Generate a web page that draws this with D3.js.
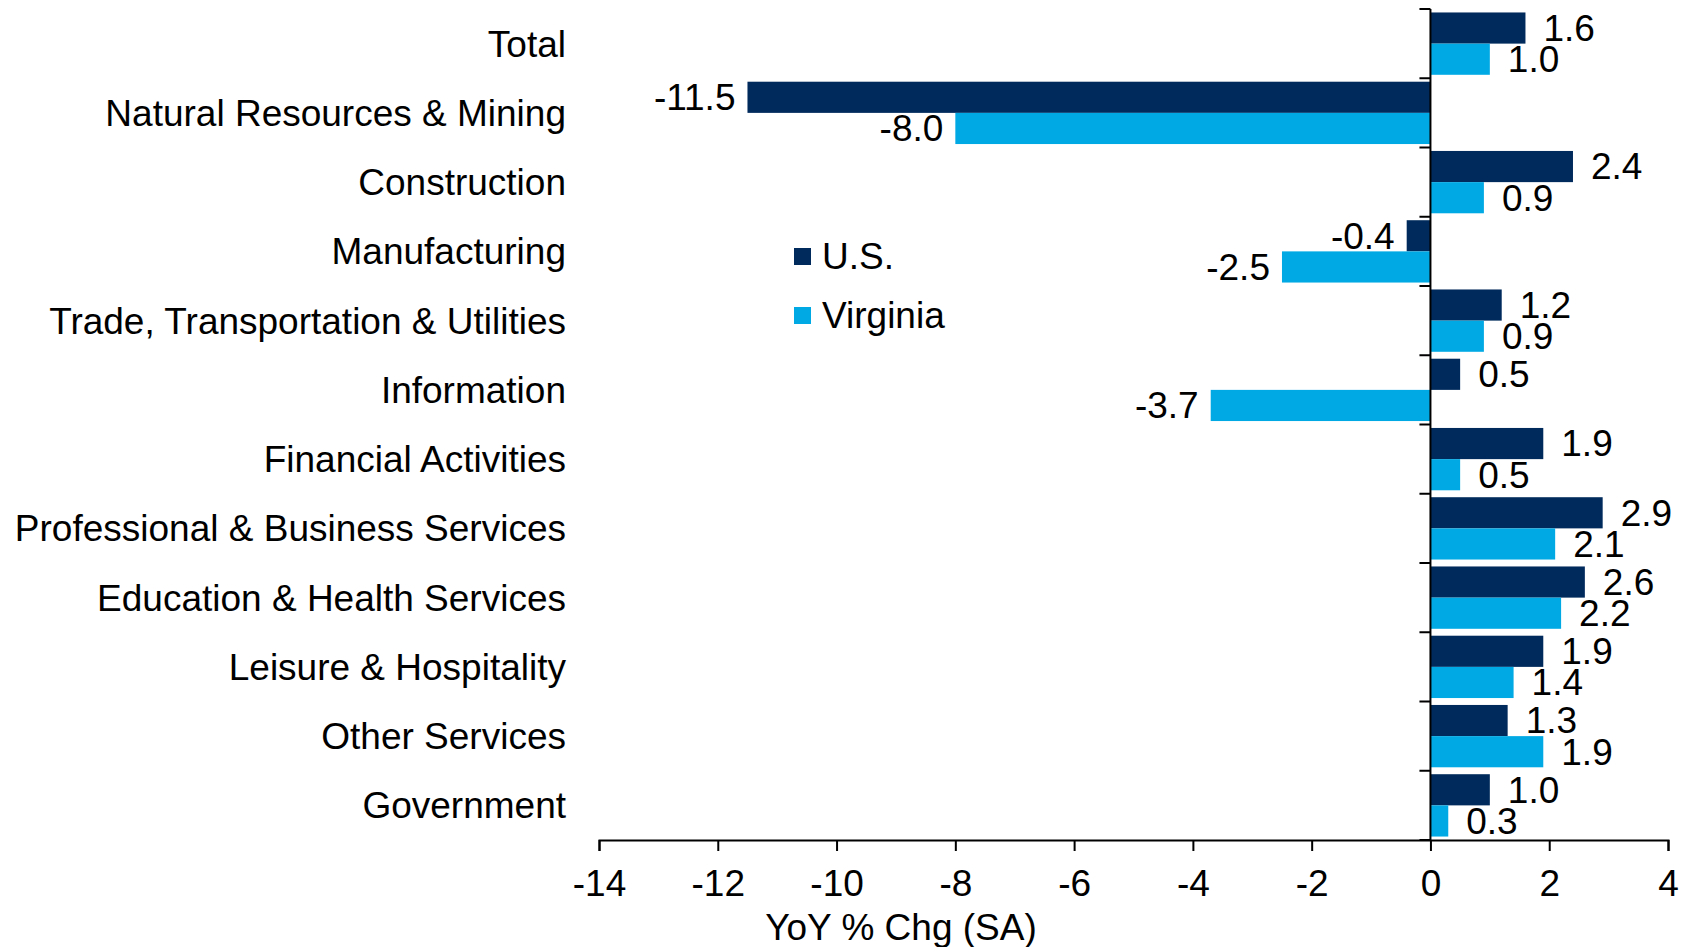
<!DOCTYPE html>
<html>
<head>
<meta charset="utf-8">
<script src="https://cdn.jsdelivr.net/npm/d3@7"></script>
<style>
  body { margin: 0; background: #fff; }
  svg { display: block; font-family: "Liberation Sans", Arial, sans-serif; }
</style>
</head>
<body>
<div id="chart"></div>
<script>
// data
const categories = [
    "Total",
    "Natural Resources & Mining",
    "Construction",
    "Manufacturing",
    "Trade, Transportation & Utilities",
    "Information",
    "Financial Activities",
    "Professional & Business Services",
    "Education & Health Services",
    "Leisure & Hospitality",
    "Other Services",
    "Government"
];
const usValues = [1.6, -11.5, 2.4, -0.4, 1.2, 0.5, 1.9, 2.9, 2.6, 1.9, 1.3, 1.0];
const vaValues = [1.0, -8.0, 0.9, -2.5, 0.9, -3.7, 0.5, 2.1, 2.2, 1.4, 1.9, 0.3];
const seriesNames = ["U.S.", "Virginia"];
const xTicks = [-14, -12, -10, -8, -6, -4, -2, 0, 2, 4];
const axisTitle = "YoY % Chg (SA)";

const width = 1690, height = 947;
const margin = { top: 9, right: 22, bottom: 107, left: 599 };
const colors = ["#002A5C", "#00A9E4"];
const fontSize = 37;

const svg = d3.select("#chart").append("svg")
    .attr("width", width)
    .attr("height", height);

const x = d3.scaleLinear()
    .domain([-14, 4])
    .range([margin.left, width - margin.right]);

const y = d3.scaleBand()
    .domain(categories)
    .range([margin.top, height - margin.bottom])
    .paddingInner(0.1)
    .paddingOuter(0.05);

const ySub = d3.scaleBand()
    .domain(seriesNames)
    .range([0, y.bandwidth()]);

// rows: one per category, two bars each
const rows = categories.map((c, i) => ({
    cat: c,
    vals: [
        { name: seriesNames[0], v: usValues[i] },
        { name: seriesNames[1], v: vaValues[i] }
    ]
}));

const groups = svg.selectAll(".grp")
    .data(rows)
    .enter()
    .append("g")
    .attr("class", "grp")
    .attr("transform", d => `translate(0,${y(d.cat)})`);

groups.selectAll("rect")
    .data(d => d.vals)
    .enter()
    .append("rect")
    .attr("x", d => x(Math.min(0, d.v)))
    .attr("width", d => Math.abs(x(d.v) - x(0)))
    .attr("y", d => ySub(d.name))
    .attr("height", ySub.bandwidth())
    .attr("fill", (d, i) => colors[i]);

// value labels
groups.selectAll("text")
    .data(d => d.vals)
    .enter()
    .append("text")
    .attr("x", d => d.v < 0 ? x(d.v) - 12 : x(d.v) + 18)
    .attr("y", d => ySub(d.name) + ySub.bandwidth() / 2)
    .attr("dy", "0.35em")
    .attr("text-anchor", d => d.v < 0 ? "end" : "start")
    .style("font-size", fontSize + "px")
    .text(d => d.v.toFixed(1));

// category labels
svg.selectAll(".cat-label")
    .data(categories)
    .enter()
    .append("text")
    .attr("class", "cat-label")
    .attr("x", 566)
    .attr("y", d => y(d) + y.bandwidth() / 2)
    .attr("dy", "0.35em")
    .attr("text-anchor", "end")
    .style("font-size", fontSize + "px")
    .text(d => d);

// x axis
const xAxis = svg.append("g")
    .attr("transform", `translate(0,${height - margin.bottom})`)
    .call(d3.axisBottom(x).tickValues(xTicks).tickSize(11).tickSizeOuter(11).tickPadding(19).tickFormat(d3.format("d")));
xAxis.select(".domain").attr("stroke", "#000").attr("stroke-width", 2);
xAxis.selectAll(".tick line").attr("stroke", "#000").attr("stroke-width", 2);
xAxis.selectAll(".tick text")
    .attr("fill", "#000")
    .style("font-size", fontSize + "px")
    .style("font-family", "'Liberation Sans', Arial, sans-serif")
    .text(d => d < 0 ? "-" + Math.abs(d) : d);

// y axis at zero, ticks at band boundaries
const yTop = margin.top, yBottom = height - margin.bottom;
const boundaries = d3.range(categories.length + 1).map(i => yTop + i * (yBottom - yTop) / categories.length);

svg.append("line")
    .attr("x1", x(0)).attr("x2", x(0))
    .attr("y1", yTop).attr("y2", yBottom)
    .attr("stroke", "#000").attr("stroke-width", 2);

svg.selectAll(".ytick")
    .data(boundaries)
    .enter()
    .append("line")
    .attr("class", "ytick")
    .attr("x1", x(0) - 11).attr("x2", x(0))
    .attr("y1", d => d).attr("y2", d => d)
    .attr("stroke", "#000").attr("stroke-width", 2);

// axis title
svg.append("text")
    .attr("x", 901)
    .attr("y", 940)
    .attr("text-anchor", "middle")
    .style("font-size", fontSize + "px")
    .text(axisTitle);

// legend
const legend = svg.append("g")
    .attr("transform", "translate(794,248)");

legend.selectAll("rect")
    .data(seriesNames)
    .enter()
    .append("rect")
    .attr("x", 0)
    .attr("y", (d, i) => i * 59)
    .attr("width", 17)
    .attr("height", 17)
    .attr("fill", (d, i) => colors[i]);

legend.selectAll("text")
    .data(seriesNames)
    .enter()
    .append("text")
    .attr("x", 28)
    .attr("y", (d, i) => i * 59 + 8.5)
    .attr("dy", "0.35em")
    .style("font-size", fontSize + "px")
    .text(d => d);
</script>
</body>
</html>
